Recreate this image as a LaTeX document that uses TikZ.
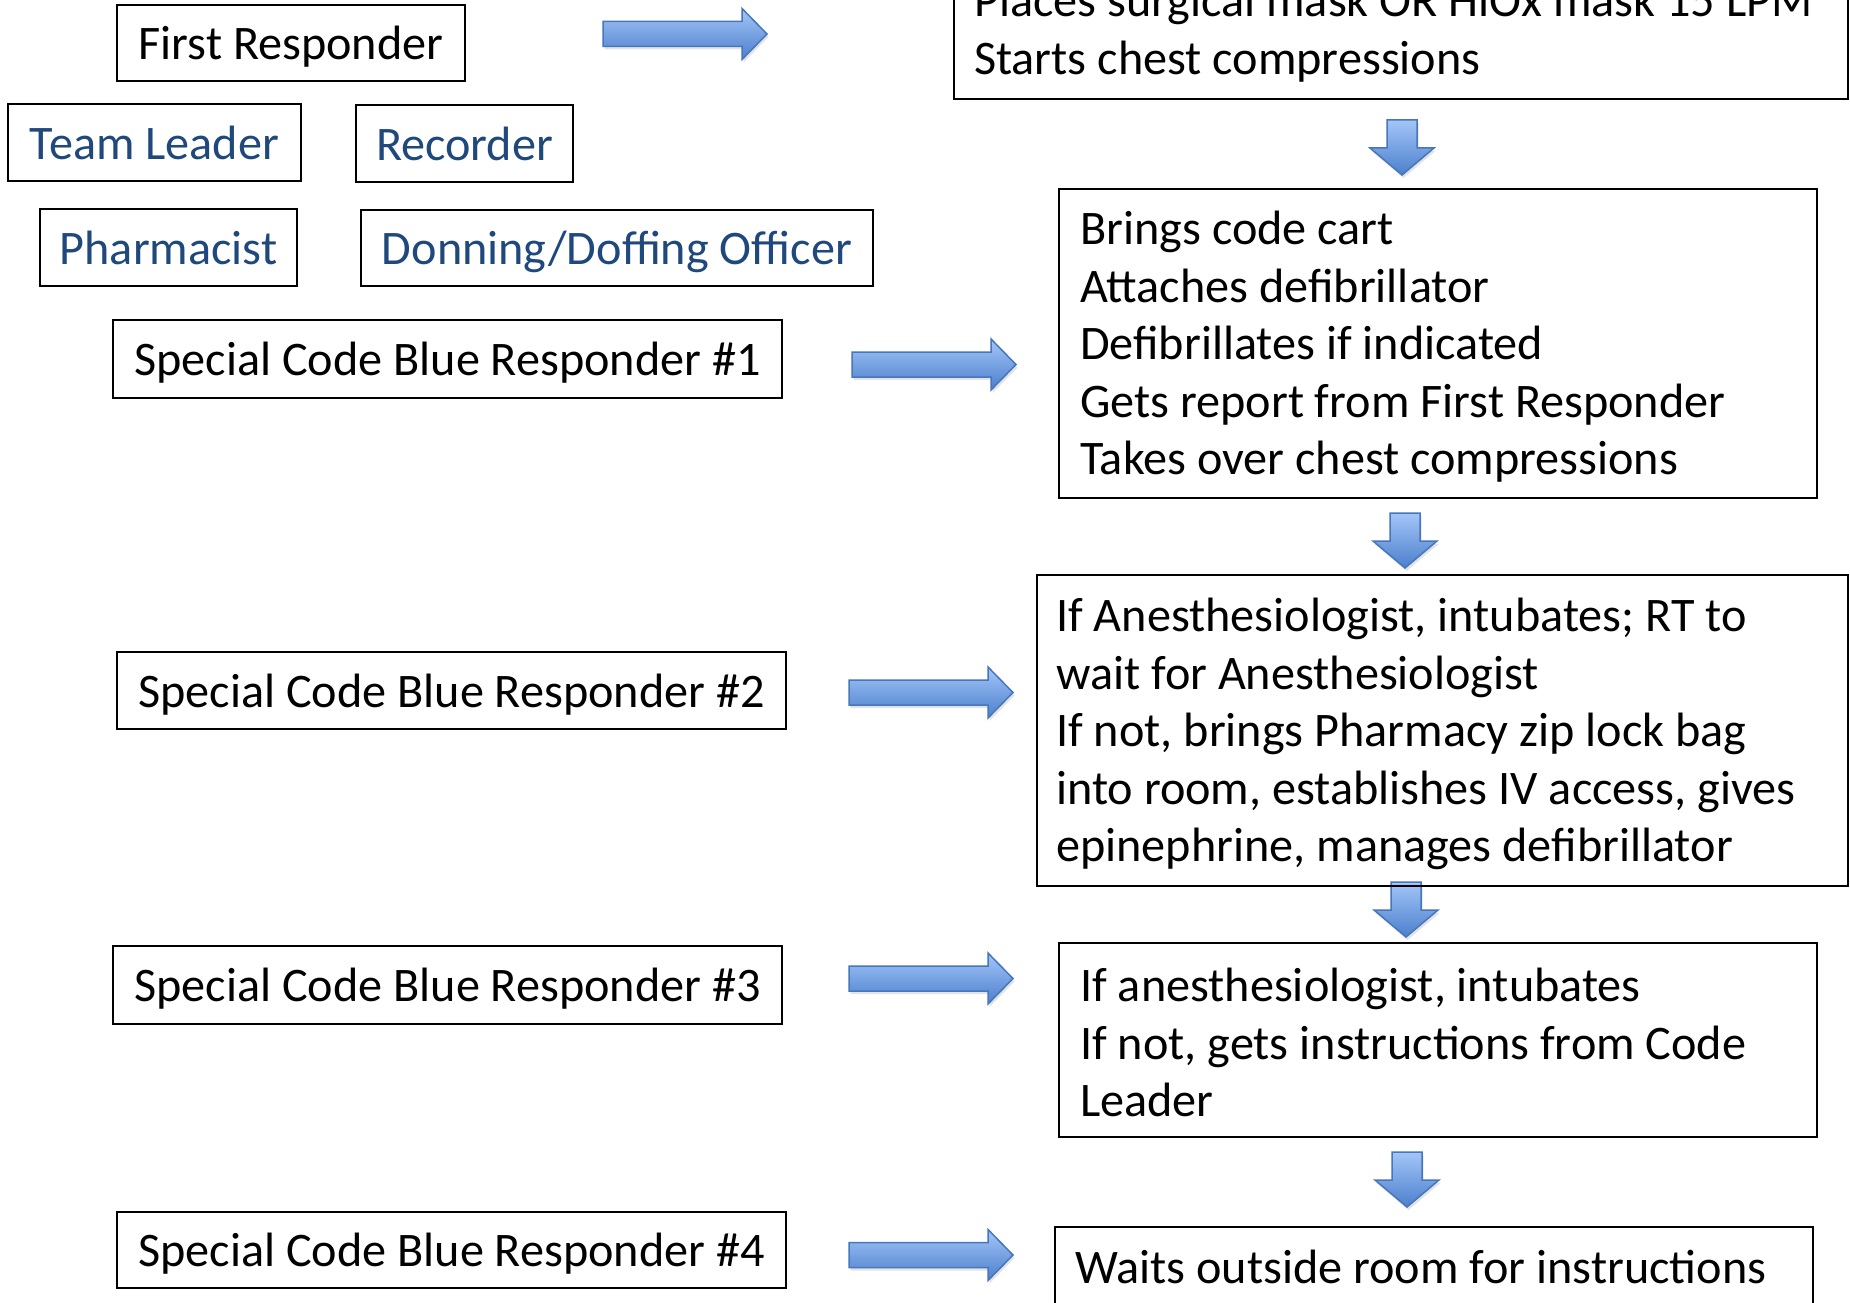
\documentclass[tikz,border=0pt]{standalone}
\usepackage{fontspec}
\setmainfont{Carlito}
\usetikzlibrary{shadows}
\definecolor{bluetext}{RGB}{31,73,125}
\definecolor{arrowtop}{RGB}{163,198,248}
\definecolor{arrowbot}{RGB}{76,127,204}
\definecolor{arrowedge}{RGB}{70,118,188}
\newcommand\bigtxt{\fontsize{48.2pt}{57.5pt}\selectfont}
\begin{document}
\begin{tikzpicture}[x=1pt,y=-1pt,
  lbox/.style={draw=black, line width=2pt, inner sep=0pt, font=\bigtxt, text depth=0pt},
  rbox/.style={draw=black, line width=2pt, inner sep=0pt},
  txt/.style={inner sep=0pt, align=left, font=\bigtxt},
  arrowfill/.style={draw=arrowedge, line width=1.5pt, top color=arrowtop, bottom color=arrowbot,
    drop shadow={opacity=0.22, shadow xshift=1.5pt, shadow yshift=-3pt}},
  rarr/.pic={\path[arrowfill] (0,-12.5) -- (139,-12.5) -- (139,-25.5) -- (164,0) -- (139,25.5) -- (139,12.5) -- (0,12.5) -- cycle;},
  darr/.pic={\path[arrowfill] (-15,0) -- (15,0) -- (15,28) -- (32,28) -- (0,55) -- (-32,28) -- (-15,28) -- cycle;}]
\useasboundingbox (0,0) rectangle (1850,1303);
\clip (0,0) rectangle (1850,1303);
\fill[white] (0,0) rectangle (1850,1303);

% block arrows
\pic (a0) at (603,34) {rarr};
\pic (a1) at (852,364.5) {rarr};
\pic (a2) at (849,692.5) {rarr};
\pic (a3) at (849,978.5) {rarr};
\pic (a4) at (849,1255) {rarr};
\pic (d1) at (1402,120) {darr};
\pic (d2) at (1405,513) {darr};
\pic (d3) at (1406,882) {darr};
\pic (d4) at (1407,1152) {darr};

% left boxes
\node[lbox, minimum width=348pt, minimum height=76pt] (fr) at (291,43) {First Responder};
\node[lbox, text=bluetext, minimum width=293pt, minimum height=77pt] (tl) at (154.5,142.5) {Team Leader};
\node[lbox, text=bluetext, minimum width=217pt, minimum height=77pt] (rec) at (464.5,143.5) {Recorder};
\node[lbox, text=bluetext, minimum width=257pt, minimum height=77pt] (ph) at (168.5,247.5) {Pharmacist};
\node[lbox, text=bluetext, minimum width=512pt, minimum height=76pt] (dd) at (617,248) {Donning/Doffing Officer};
\node[lbox, minimum width=669pt, minimum height=78pt] (s1) at (447.5,359) {Special Code Blue Responder \#1};
\node[lbox, minimum width=669pt, minimum height=77pt] (s2) at (451.5,690.5) {Special Code Blue Responder \#2};
\node[lbox, minimum width=669pt, minimum height=78pt] (s3) at (447.5,985) {Special Code Blue Responder \#3};
\node[lbox, minimum width=669pt, minimum height=76pt] (s4) at (451.5,1250) {Special Code Blue Responder \#4};

% right boxes
\node[rbox, minimum width=894pt, minimum height=160pt] (r0) at (1401,19) {};
\node[txt, anchor=south west] (r0t) at (974,82) {Places surgical mask OR HiOx mask 15 LPM\\Starts chest compressions};

\node[rbox, minimum width=758pt, minimum height=309pt] (r1) at (1438,343.5) {};
\node[txt, anchor=west] (r1t) at (1080,347) {Brings code cart\\Attaches defibrillator\\Defibrillates if indicated\\Gets report from First Responder\\Takes over chest compressions};

\node[rbox, minimum width=811pt, minimum height=311pt] (r2) at (1442.5,730.5) {};
\node[txt, anchor=west] (r2t) at (1056,734) {If Anesthesiologist, intubates; RT to\\wait for Anesthesiologist\\If not, brings Pharmacy zip lock bag\\into room, establishes IV access, gives\\epinephrine, manages defibrillator};

\node[rbox, minimum width=758pt, minimum height=194pt] (r3) at (1438,1040) {};
\node[txt, anchor=west] (r3t) at (1080,1042.5) {If anesthesiologist, intubates\\If not, gets instructions from Code\\Leader};

\node[rbox, minimum width=758pt, minimum height=103pt] (r4) at (1434,1278.5) {};
\node[txt, anchor=base west] (r4t) at (1075,1283) {Waits outside room for instructions};
\end{tikzpicture}
\end{document}
